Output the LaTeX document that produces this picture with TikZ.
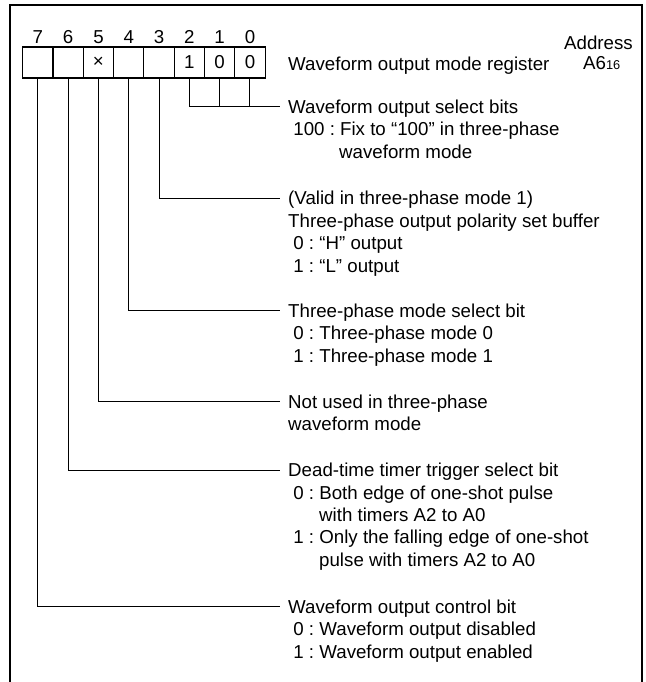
\documentclass[tikz,border=0pt]{standalone}
\usepackage{fontspec}
\setmainfont{Liberation Sans}
\frenchspacing
\newcommand\fsz{\fontsize{18.7}{22}\selectfont}
\newcommand\fsm{\fontsize{12.8}{14}\selectfont}
\begin{document}
\begin{tikzpicture}[x=1pt,y=-1pt,
  cell/.style={draw, line width=1.1pt, minimum width=30.3pt, minimum height=31pt, inner sep=0pt, font=\fsz},
  bitnum/.style={anchor=base, inner sep=0pt, font=\fsz},
  txt/.style={anchor=base west, inner sep=0pt, font=\fsz},
  conn/.style={line width=1pt},
  frame/.style={line width=2pt}]
\useasboundingbox (0,0) rectangle (645,682);
\draw[frame] (10,682) -- (10,5) -- (641.5,5) -- (641.5,682);
% cells
\foreach \b/\x/\v in {7/37.85/{},6/68.15/{},5/98.45/{×},4/128.75/{},3/159.05/{},2/189.35/1,1/219.65/0,0/249.95/0}{
  \node[cell] (c\b) at (\x,62.5) {\v};
  \node[bitnum] (n\b) at (\x,43.6) {\b};
}
% register title and address
\node[txt] (title) at (288,71) {Waveform output mode register};
\node[txt, anchor=base east] (addr) at (633,49.5) {Address};
\node[txt] (addrv) at (583,70) {A6{\fsm 16}};
% connector ends
\coordinate (e2) at (280,106.7);
\coordinate (e3) at (280,198.3);
\coordinate (e4) at (280,310.7);
\coordinate (e5) at (280,401.7);
\coordinate (e6) at (280,470);
\coordinate (e7) at (280,606.7);
\draw[conn] (c2.south) |- (e2);
\draw[conn] (c1.south) -- (c1.south |- e2);
\draw[conn] (c0.south) -- (c0.south |- e2);
\draw[conn] (c3.south) |- (e3);
\draw[conn] (c4.south) |- (e4);
\draw[conn] (c5.south) |- (e5);
\draw[conn] (c6.south) |- (e6);
\draw[conn] (c7.south) |- (e7);
% block bits 2-0
\node[txt] (t2a) at (288,113.3) {Waveform output select bits};
\node[txt] (t2b) at (288,135.7) {\ 100 : Fix to “100” in three-phase};
\node[txt] (t2c) at (339,158.1) {waveform mode};
% block bit 3
\node[txt] (t3a) at (288,204.9) {(Valid in three-phase mode 1)};
\node[txt] (t3b) at (288,227.3) {Three-phase output polarity set buffer};
\node[txt] (t3c) at (288,249.7) {\ 0 : “H” output};
\node[txt] (t3d) at (288,272.1) {\ 1 : “L” output};
% block bit 4
\node[txt] (t4a) at (288,317.3) {Three-phase mode select bit};
\node[txt] (t4b) at (288,339.7) {\ 0 : Three-phase mode 0};
\node[txt] (t4c) at (288,362.1) {\ 1 : Three-phase mode 1};
% block bit 5
\node[txt] (t5a) at (288,408.3) {Not used in three-phase};
\node[txt] (t5b) at (288,430.7) {waveform mode};
% block bit 6
\node[txt] (t6a) at (288,476.6) {Dead-time timer trigger select bit};
\node[txt] (t6b) at (288,499.0) {\ 0 : Both edge of one-shot pulse};
\node[txt] (t6c) at (319,521.4) {with timers A2 to A0};
\node[txt] (t6d) at (288,543.8) {\ 1 : Only the falling edge of one-shot};
\node[txt] (t6e) at (319,566.2) {pulse with timers A2 to A0};
% block bit 7
\node[txt] (t7a) at (288,613.3) {Waveform output control bit};
\node[txt] (t7b) at (288,635.7) {\ 0 : Waveform output disabled};
\node[txt] (t7c) at (288,658.1) {\ 1 : Waveform output enabled};
\end{tikzpicture}
\end{document}
